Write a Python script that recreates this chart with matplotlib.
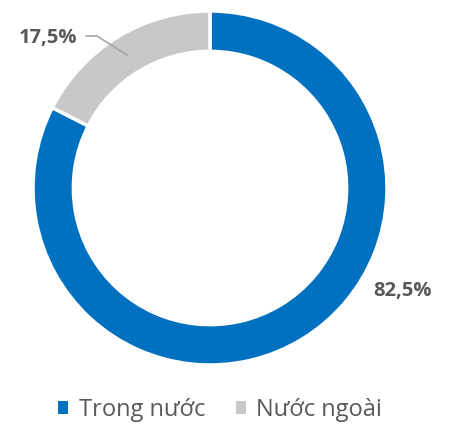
import matplotlib
matplotlib.use("Agg")
import matplotlib.pyplot as plt
from matplotlib.patches import Patch

categories = ["Trong nước", "Nước ngoài"]
values = [82.5, 17.5]
labels = ["82,5%", "17,5%"]
colors = ["#0070C0", "#C8C8C8"]
text_color = "#595959"

plt.rcParams['font.family'] = ['Open Sans', 'DejaVu Sans']

fig = plt.figure(figsize=(4.5, 4.26), dpi=100)
W, H = 450, 426
cx, cy, r = 210, 188, 177
ax = fig.add_axes([(cx - r) / W, (H - cy - r) / H, 2 * r / W, 2 * r / H])
wedges, _ = ax.pie(values, colors=colors, startangle=90, counterclock=False,
                   radius=1.0, wedgeprops=dict(width=0.228, edgecolor="white", linewidth=2.5))
ax.set_xlim(-1, 1)
ax.set_ylim(-1, 1)
ax.set_aspect("equal")
ax.axis("off")

def px(x, y):
    return ((x - cx) / r, (cy - y) / r)

# labels
ax.text(*px(403, 291), labels[0], ha="center", va="center", fontsize=14.5,
        fontweight="bold", color=text_color)
ax.text(*px(47.5, 38), labels[1], ha="center", va="center", fontsize=14.5,
        fontweight="bold", color=text_color)
p1, p2, p3 = px(86, 36), px(97, 36), px(127, 55)
ax.plot([p1[0], p2[0], p3[0]], [p1[1], p2[1], p3[1]], color="#A6A6A6", lw=1.2)

handles = [Patch(facecolor=c, edgecolor="none") for c in colors]
leg = fig.legend(handles, categories, loc="center", bbox_to_anchor=(220 / W, 1 - 410 / H),
                 ncol=2, frameon=False, fontsize=17, handlelength=0.42, handleheight=0.42,
                 handletextpad=0.45, columnspacing=1.3, borderpad=0, borderaxespad=0)
for t in leg.get_texts():
    t.set_color(text_color)

fig.savefig("out.png", dpi=100)
